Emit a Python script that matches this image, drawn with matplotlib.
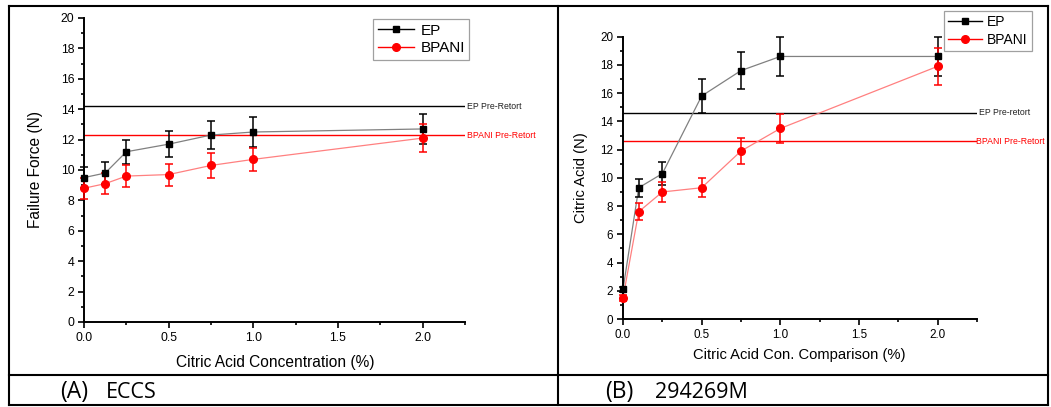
import matplotlib.pyplot as plt
from matplotlib.lines import Line2D
from matplotlib.ticker import MultipleLocator

plt.rcParams['font.family'] = ['Liberation Sans', 'DejaVu Sans']

# --- panel A data (ECCS) ---
conc_a = [0, 0.125, 0.25, 0.5, 0.75, 1.0, 2.0]
ep_a = [9.5, 9.8, 11.2, 11.7, 12.3, 12.5, 12.7]
ep_a_err = [0.7, 0.7, 0.8, 0.85, 0.9, 1.0, 1.0]
bpani_a = [8.8, 9.1, 9.6, 9.7, 10.3, 10.7, 12.1]
bpani_a_err = [0.7, 0.7, 0.75, 0.72, 0.8, 0.78, 0.92]
ep_pre_a = 14.2
bpani_pre_a = 12.3

# --- panel B data (294269M) ---
conc_b = [0, 0.1, 0.25, 0.5, 0.75, 1.0, 2.0]
ep_b = [2.1, 9.3, 10.3, 15.8, 17.6, 18.6, 18.6]
ep_b_err = [0.2, 0.65, 0.8, 1.2, 1.3, 1.4, 1.4]
bpani_b = [1.5, 7.6, 9.0, 9.3, 11.9, 13.5, 17.9]
bpani_b_err = [0.2, 0.6, 0.7, 0.67, 0.9, 1.0, 1.3]
ep_pre_b = 14.6
bpani_pre_b = 12.6

W, H = 1051, 407
fig = plt.figure(figsize=(W / 100, H / 100), dpi=100)


def px_axes(left, top, right, bottom):
    return fig.add_axes([left / W, 1 - bottom / H, (right - left) / W, (bottom - top) / H])


def draw_panel(ax, x, ep, ep_err, bp, bp_err, ep_pre, bp_pre, pre_txt, xlabel, ylabel,
               lab_fs, tick_fs, leg_fs, leg_anchor, xlab_pos, ylab_pos, bp_txt_x):
    # connecting lines
    ax.plot(x, ep, color='#808080', lw=0.9, zorder=2)
    ax.plot(x, bp, color='#ff8080', lw=0.9, zorder=2)
    # error bars
    ax.errorbar(x, ep, yerr=ep_err, fmt='none', ecolor='black', elinewidth=1.1,
                capsize=2.6, capthick=1.1, zorder=3, clip_on=False)
    ax.errorbar(x, bp, yerr=bp_err, fmt='none', ecolor='red', elinewidth=1.1,
                capsize=2.6, capthick=1.1, zorder=3, clip_on=False)
    # markers
    ax.plot(x, ep, 's', color='black', ms=5, zorder=4, clip_on=False)
    ax.plot(x, bp, 'o', color='red', ms=5.5, zorder=4, clip_on=False)

    # pre-retort reference lines
    ax.axhline(ep_pre, color='black', lw=1, zorder=1)
    ax.axhline(bp_pre, color='red', lw=1, zorder=1)
    trans = ax.get_yaxis_transform()
    ax.text(1.006, ep_pre, pre_txt[0], transform=trans, fontsize=6.3,
            va='center', ha='left', color='#222222')
    ax.text(bp_txt_x, bp_pre, pre_txt[1], transform=trans, fontsize=6.3,
            va='center', ha='left', color='red')

    ax.set_xlim(0, 2.25)
    ax.set_ylim(0, 20)
    ax.xaxis.set_major_locator(MultipleLocator(0.5))
    ax.xaxis.set_minor_locator(MultipleLocator(0.25))
    ax.yaxis.set_major_locator(MultipleLocator(2))
    ax.yaxis.set_minor_locator(MultipleLocator(1))
    ax.set_xticks([0, 0.5, 1.0, 1.5, 2.0])
    ax.set_xticklabels(['0.0', '0.5', '1.0', '1.5', '2.0'])
    ax.tick_params(which='major', direction='out', length=4, width=1.2,
                   labelsize=tick_fs, pad=3)
    ax.tick_params(which='minor', direction='out', length=2.5, width=1.2)
    for s in ['top', 'right']:
        ax.spines[s].set_visible(False)
    for s in ['left', 'bottom']:
        ax.spines[s].set_linewidth(1.4)

    ax.set_xlabel(xlabel, fontsize=lab_fs, va='center')
    ax.set_ylabel(ylabel, fontsize=lab_fs, va='center')
    ax.xaxis.set_label_coords(*xlab_pos)
    ax.yaxis.set_label_coords(*ylab_pos)

    handles = [Line2D([], [], color='black', marker='s', ms=5, lw=1),
               Line2D([], [], color='red', marker='o', ms=5.5, lw=1)]
    leg = ax.legend(handles, ['EP', 'BPANI'], loc='upper left',
                    bbox_to_anchor=leg_anchor, bbox_transform=fig.transFigure,
                    borderaxespad=0, fontsize=leg_fs, frameon=True, fancybox=False,
                    edgecolor='#a0a0a0', framealpha=1, numpoints=1,
                    handlelength=2.4, handletextpad=0.4, borderpad=0.3,
                    labelspacing=0.25)
    leg.get_frame().set_linewidth(0.9)


ax_a = px_axes(84, 18, 465, 322)
ax_b = px_axes(623, 36.7, 977, 319)

draw_panel(ax_a, conc_a, ep_a, ep_a_err, bpani_a, bpani_a_err, ep_pre_a, bpani_pre_a,
           ['EP Pre-Retort', 'BPANI Pre-Retort'],
           'Citric Acid Concentration (%)', 'Failure Force (N)',
           11.2, 8.8, 11.0, (373 / W, 1 - 19 / H), (0.503, -0.132), (-0.126, 0.5), 1.006)
draw_panel(ax_b, conc_b, ep_b, ep_b_err, bpani_b, bpani_b_err, ep_pre_b, bpani_pre_b,
           ['EP Pre-retort', 'BPANI Pre-Retort'],
           'Citric Acid Con. Comparison (%)', 'Citric Acid (N)',
           10.6, 8.4, 10.0, (944 / W, 1 - 11 / H), (0.499, -0.1275), (-0.119, 0.5), 0.998)

# --- table borders ---
def fig_line(x0, y0, x1, y1):
    fig.add_artist(Line2D([x0 / W, x1 / W], [1 - y0 / H, 1 - y1 / H],
                          transform=fig.transFigure, color='black', lw=1.5))

fig_line(8.5, 5.5, 1048, 5.5)
fig_line(8.5, 405, 1048, 405)
fig_line(8.5, 374.5, 1048, 374.5)
fig_line(8.5, 5.5, 8.5, 405)
fig_line(1048, 5.5, 1048, 405)
fig_line(557.5, 5.5, 557.5, 405)

# --- panel captions ---
cap_font = 'Open Sans'
fig.text(60 / W, 1 - 392 / H, '(A)', fontsize=16.5, family=cap_font, va='center')
fig.text(106 / W, 1 - 392 / H, 'ECCS', fontsize=15.5, family=cap_font, va='center')
fig.text(605 / W, 1 - 392 / H, '(B)', fontsize=16.5, family=cap_font, va='center')
fig.text(655 / W, 1 - 392 / H, '294269M', fontsize=15.5, family=cap_font, va='center')

fig.savefig('out.png', dpi=100)
